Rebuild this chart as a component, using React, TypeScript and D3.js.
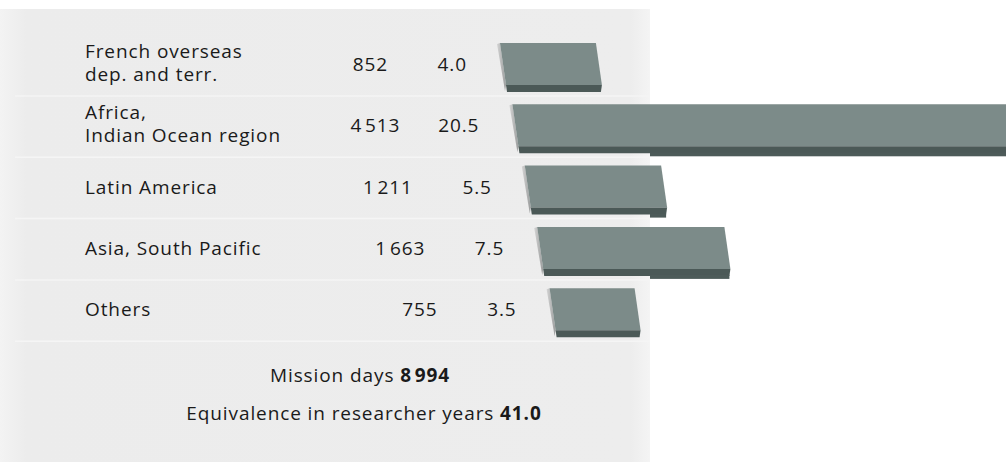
import React from "react";
import * as d3 from "d3";

const regions: string[][] = [
  ["French overseas", "dep. and terr."],
  ["Africa,", "Indian Ocean region"],
  ["Latin America"],
  ["Asia, South Pacific"],
  ["Others"],
];
const missionDays: number[] = [852, 4513, 1211, 1663, 755];
const researcherYears: number[] = [4.0, 20.5, 5.5, 7.5, 3.5];
const totalDays = 8994;
const totalYears = 41.0;

const W = 1006;
const H = 462;
const FONT = "'Open Sans', 'DejaVu Sans', sans-serif";
const FS = 19;
const LS = 0.9;

const loc = d3.formatLocale({ decimal: ".", thousands: "\u200A", grouping: [3], currency: ["", ""] });
const fmtDays = loc.format(",d");
const fmtYears = d3.format(".1f");

export default function App() {
  const rowY = d3.scaleLinear().domain([0, 1]).range([43, 43 + 61.3]);
  const skew = d3.scaleLinear().domain([0, 1]).range([0, 12.4]);
  const x = d3.scaleLinear().domain([0, 4513]).range([0, 508]);
  const barBase = 500;
  const faceH = 42;
  const slant = 6;
  const band = 7;
  const txt = { fontFamily: FONT, fontSize: FS, fill: "#1a1a1a", letterSpacing: LS };

  return (
    <svg width={W} height={H} style={{ position: "absolute", left: 0, top: 0, background: "#fff" }}>
      <defs>
        <linearGradient id="sideG" x1="0" x2="1" y1="0" y2="0">
          <stop offset="0" stopColor="#d4d4d4" />
          <stop offset="1" stopColor="#9a9c9c" />
        </linearGradient>
        <linearGradient id="panelG" x1="0" x2="1" y1="0" y2="0">
          <stop offset="0" stopColor="#f3f3f3" />
          <stop offset="0.04" stopColor="#ececec" />
          <stop offset="0.97" stopColor="#ededed" />
          <stop offset="1" stopColor="#f4f4f4" />
        </linearGradient>
      </defs>
      <rect x={0} y={9} width={650} height={H - 9} fill="url(#panelG)" />
      {[0, 1, 2, 3, 4].map((i) => (
        <line
          key={"sep" + i}
          x1={15}
          x2={650}
          y1={rowY(i) + 53}
          y2={rowY(i) + 53}
          stroke="#f5f5f5"
          strokeWidth={1.5}
        />
      ))}
      {missionDays.map((d, i) => {
        const top = rowY(i);
        const x0 = barBase + skew(i);
        const x1 = x0 + x(d);
        const bot = top + faceH;
        const face = `M${x0},${top} L${x1},${top} L${x1 + slant},${bot} L${x0 + slant},${bot} Z`;
        const bandP = `M${x0 + slant},${bot} L${x1 + slant},${bot} L${x1 + slant - 1},${bot + band} L${x0 + slant + 1},${bot + band} Z`;
        const side = `M${x0 - 3},${top + 1} L${x0},${top} L${x0 + slant},${bot} L${x0 + slant - 1},${bot + band - 1} Z`;
        const ext = x1 + slant - 1 > 650 ? (
          <rect x={650} y={bot + band - 1} width={x1 + slant - 1 - 650} height={4} fill="#4d5b59" />
        ) : null;
        const lines = regions[i];
        const base = top + 28;
        return (
          <g key={i}>
            <path d={side} fill="url(#sideG)" />
            <path d={face} fill="#7c8b89" />
            <path d={bandP} fill="#4b5957" />
            {ext}
            {lines.length === 1 ? (
              <text x={85} y={base} {...txt}>
                {lines[0]}
              </text>
            ) : (
              <g>
                <text x={85} y={top + 15} {...txt}>{lines[0]}</text>
                <text x={85} y={top + 38} {...txt}>{lines[1]}</text>
              </g>
            )}
            <text x={388 + skew(i)} y={base} textAnchor="end" {...txt}>
              {fmtDays(d)}
            </text>
            <text x={467 + skew(i)} y={base} textAnchor="end" {...txt}>
              {fmtYears(researcherYears[i])}
            </text>
          </g>
        );
      })}
      <text x={360} y={382} textAnchor="middle" {...txt}>
        Mission days <tspan fontWeight="bold">{fmtDays(totalDays)}</tspan>
      </text>
      <text x={364} y={420} textAnchor="middle" {...txt}>
        Equivalence in researcher years <tspan fontWeight="bold">{fmtYears(totalYears)}</tspan>
      </text>
    </svg>
  );
}
